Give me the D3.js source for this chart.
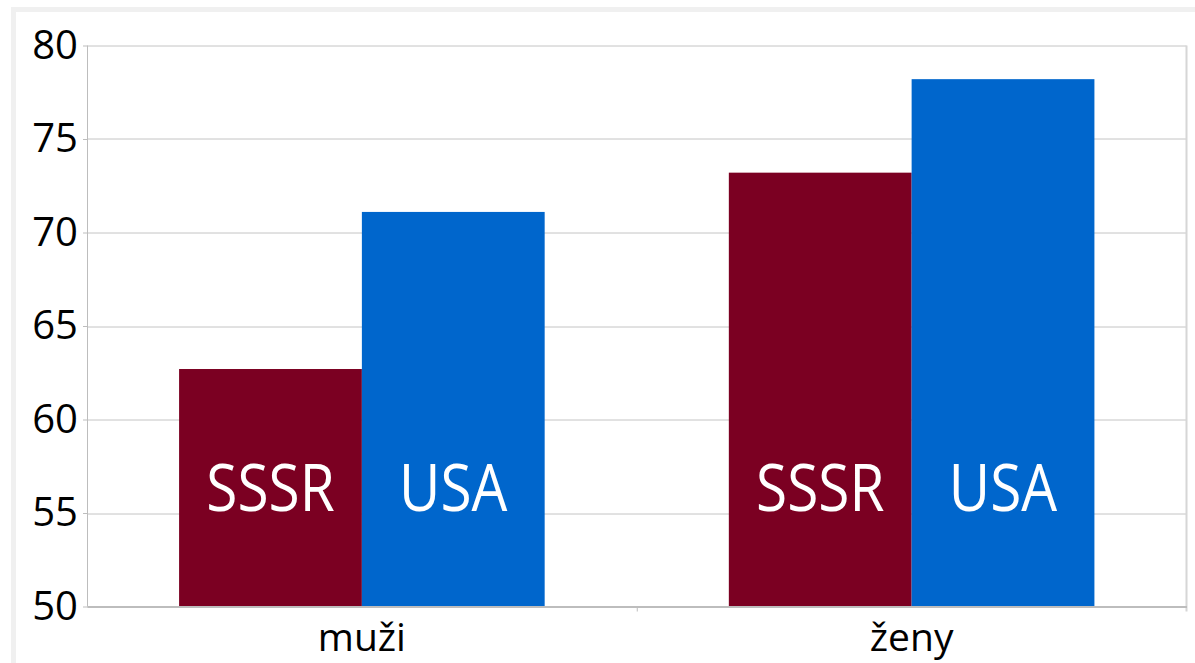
<!DOCTYPE html>
<html>
<head>
<meta charset="utf-8">
<script src="https://cdn.jsdelivr.net/npm/d3@7"></script>
<style>
  body { margin: 0; background: #fff; }
  text { font-family: "Open Sans", sans-serif; }
</style>
</head>
<body>
<svg width="1195" height="663"></svg>
<script>
// data
var categories = ["muži", "ženy"];
var seriesNames = ["SSSR", "USA"];
var sssrValues = [62.7, 73.2];
var usaValues = [71.1, 78.2];
var yTicks = [50, 55, 60, 65, 70, 75, 80];
var colors = ["#7b0022", "#0066cc"];

var svg = d3.select("svg"),
    margin = {top: 45.5, right: 8.5, bottom: 56.5, left: 87},
    width = +svg.attr("width") - margin.left - margin.right,
    height = +svg.attr("height") - margin.top - margin.bottom;

/* outer frame */
svg.append("rect")
    .attr("x", 13.5).attr("y", 9.5)
    .attr("width", 1300).attr("height", 800)
    .attr("fill", "none")
    .attr("stroke", "#f0f0f0")
    .attr("stroke-width", 5);

var g = svg.append("g")
    .attr("transform", "translate(" + margin.left + "," + margin.top + ")");

var x0 = d3.scaleBand().domain(categories).range([0, width]).paddingInner(0).paddingOuter(0);
var y = d3.scaleLinear().domain([50, 80]).range([height, 0]);

var inner = 0.665;
var x1 = d3.scaleBand().domain(seriesNames).range([0, x0.bandwidth() * inner]);

/* gridlines */
g.selectAll(".grid")
    .data(yTicks)
    .enter().append("line")
    .attr("x1", 0).attr("x2", width)
    .attr("y1", function (d) { return Math.round(y(d)) + 0.5; })
    .attr("y2", function (d) { return Math.round(y(d)) + 0.5; })
    .attr("stroke", "#c4c4c4").attr("stroke-width", 1);

/* right border */
g.append("line")
    .attr("x1", width).attr("x2", width)
    .attr("y1", 0).attr("y2", height + 5)
    .attr("stroke", "#d6d6d6").attr("stroke-width", 2);

var data = [];
categories.forEach(function (c, i) {
    data.push({cat: c, s: "SSSR", v: sssrValues[i], col: colors[0]});
    data.push({cat: c, s: "USA", v: usaValues[i], col: colors[1]});
});

var off = x0.bandwidth() * (1 - inner) / 2;

g.selectAll(".bar")
    .data(data)
    .enter().append("rect")
    .attr("class", "bar")
    .attr("x", function (d) { return x0(d.cat) + off + x1(d.s); })
    .attr("y", function (d) { return y(d.v); })
    .attr("width", x1.bandwidth())
    .attr("height", function (d) { return height - y(d.v); })
    .attr("fill", function (d) { return d.col; });

/* labels inside the bars, a bit condensed */
g.selectAll(".barlabel")
    .data(data)
    .enter().append("text")
    .attr("class", "barlabel")
    .attr("transform", function (d) {
        var cx = x0(d.cat) + off + x1(d.s) + x1.bandwidth() / 2;
        return "translate(" + cx + "," + (y(55.1)) + ")scale(0.86,1)";
    })
    .attr("text-anchor", "middle")
    .attr("fill", "#fff")
    .style("font-size", "66px")
    .text(function (d) { return d.s; });

/* y axis */
var yAxis = g.append("g")
    .call(d3.axisLeft(y).tickValues(yTicks).tickSize(4).tickPadding(5));
yAxis.select(".domain").attr("stroke", "#bdbdbd").attr("d", "M0.5," + height + "V0");
yAxis.selectAll(".tick line").attr("stroke", "#bdbdbd");
yAxis.selectAll("text")
    .attr("fill", "#000")
    .style("font-size", "40px")
    .style("font-family", "'Open Sans', sans-serif");

/* x axis */
var xAxis = g.append("g")
    .attr("transform", "translate(0," + height + ")")
    .call(d3.axisBottom(x0).tickSize(0).tickPadding(17));
xAxis.select(".domain").attr("stroke", "#bdbdbd").attr("stroke-width", 2);
xAxis.selectAll("text")
    .attr("fill", "#000")
    .style("font-size", "39px")
    .style("font-family", "'Open Sans', sans-serif");

/* category boundary tick */
g.append("line")
    .attr("x1", x0("ženy") + 0.5).attr("x2", x0("ženy") + 0.5)
    .attr("y1", height).attr("y2", height + 5)
    .attr("stroke", "#bdbdbd");
</script>
</body>
</html>
